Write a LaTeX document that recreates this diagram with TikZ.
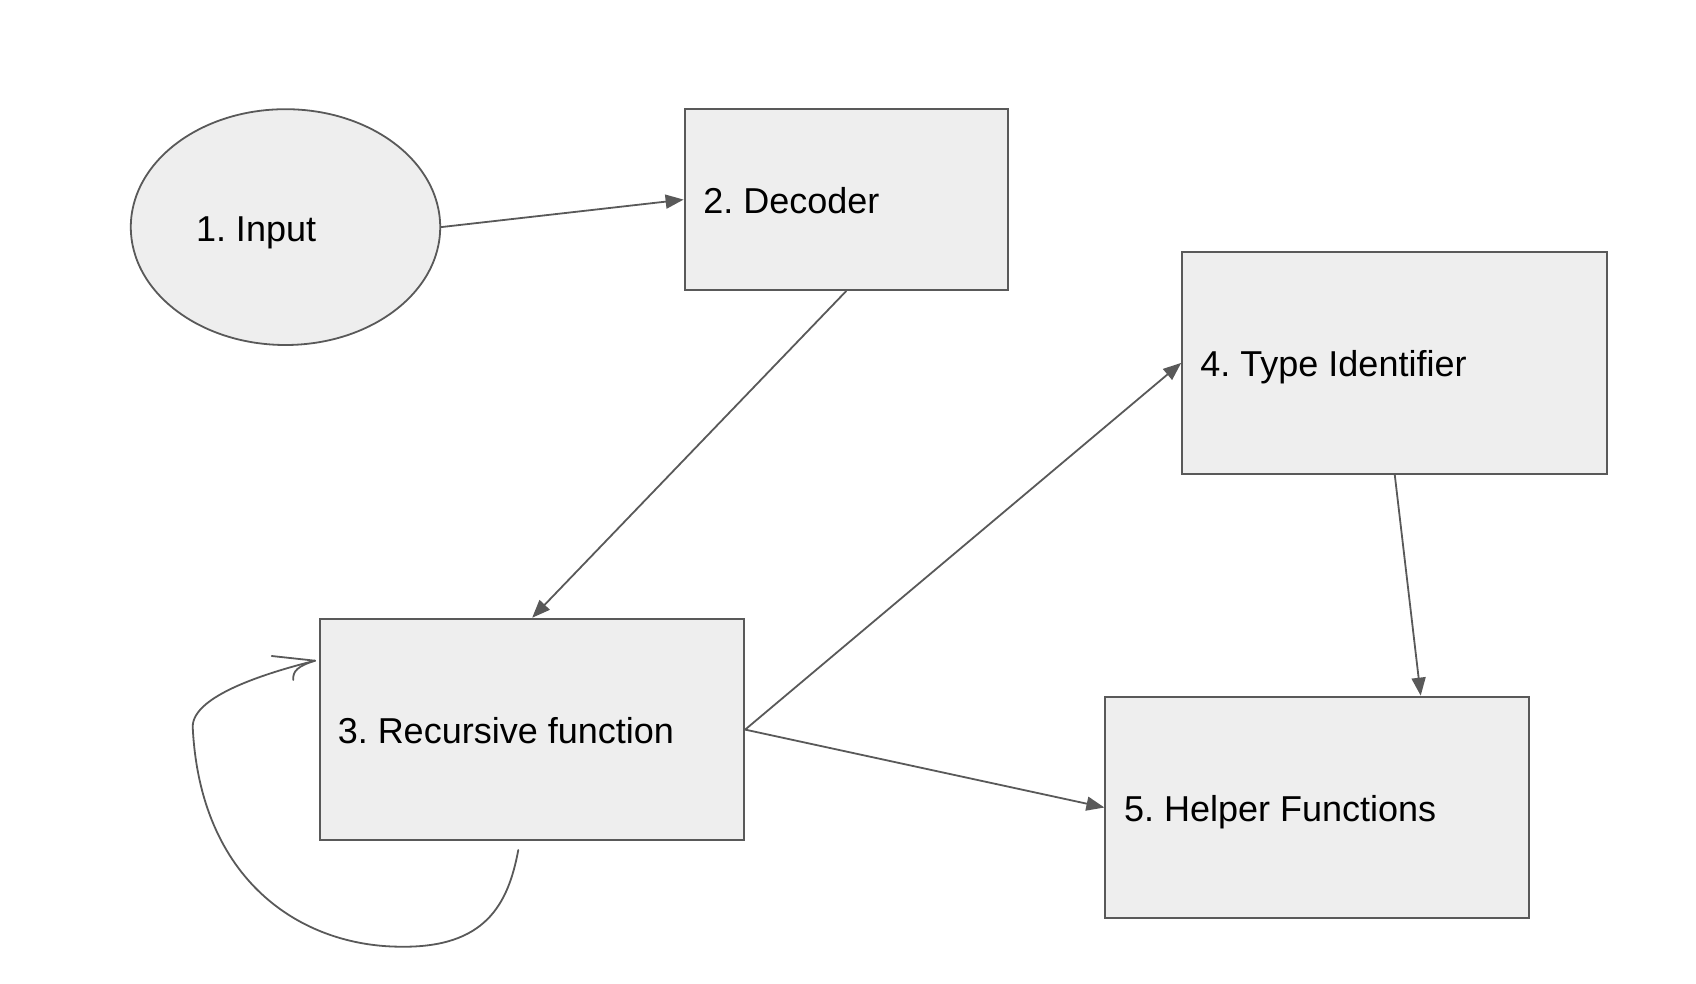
\documentclass[tikz,border=0pt]{standalone}
\usepackage{fontspec}
\setmainfont{Liberation Sans}
\usetikzlibrary{arrows.meta,calc,shapes.geometric}
\definecolor{edge}{HTML}{595959}
\definecolor{boxfill}{HTML}{EEEEEE}
\tikzset{
  shapebox/.style={draw=edge, fill=boxfill, line width=2pt, rectangle, inner sep=0pt},
  shapeell/.style={draw=edge, fill=boxfill, line width=1.8pt, ellipse, inner sep=0pt},
  lbl/.style={anchor=base west, inner sep=0pt, font=\fontsize{36}{40}\selectfont\frenchspacing, text=black},
  arr/.style={draw=edge, line width=1.8pt, -{Triangle[length=18pt,width=14pt]}},
  loopline/.style={draw=edge, line width=1.8pt, line cap=round}
}
\begin{document}
\frenchspacing
\begin{tikzpicture}[x=1pt,y=-1pt]
\useasboundingbox (0,0) rectangle (1696,984);
% shapes
\node[shapeell, minimum width=309.4pt, minimum height=235.8pt] (inp) at (285.5,227.1) {};
\node[shapebox, minimum width=323.4pt, minimum height=180.7pt] (dec) at (846.3,199.6) {};
\node[shapebox, minimum width=425.1pt, minimum height=221.7pt] (typ) at (1394.75,362.9) {};
\node[shapebox, minimum width=423.9pt, minimum height=221.7pt] (rec) at (532.2,729.6) {};
\node[shapebox, minimum width=424pt, minimum height=221.7pt] (hlp) at (1317.4,807.5) {};
% labels
\node[lbl] (inpT) at ($(inp.center)+(-89.7,14)$) {1. Input};
\node[lbl] (decT) at ($(dec.west)+(19.5,14)$) {2. Decoder};
\node[lbl] (typT) at ($(typ.west)+(19,14)$) {4. Type Identifier};
\node[lbl] (recT) at ($(rec.west)+(18.3,14)$) {3. Recursive function};
\node[lbl] (hlpT) at ($(hlp.west)+(19.5,14)$) {5. Helper Functions};
% connectors
\coordinate (hlpIn) at ($(hlp.north west)+(316.3,0)$);
\draw[arr] (inp.east) -- (dec.west);
\draw[arr] (dec.south) -- (rec.north);
\draw[arr] (rec.east) -- (typ.west);
\draw[arr] (rec.east) -- (hlp.west);
\draw[arr] (typ.south) -- (hlpIn);
% self loop
\coordinate (loopA) at (518.3,850);
\coordinate (loopB) at (315,660.7);
\draw[loopline] (loopA) .. controls (508,905) and (485,948) .. (400,946.7)
  .. controls (300,946) and (200,880) .. (192.7,726.7)
  .. controls (192.7,695) and (270,672) .. (loopB);
\draw[loopline] (271.7,656) -- (loopB);
\draw[loopline] (293.3,680) .. controls (292.5,671) and (298,666) .. (loopB);
\end{tikzpicture}
\end{document}
